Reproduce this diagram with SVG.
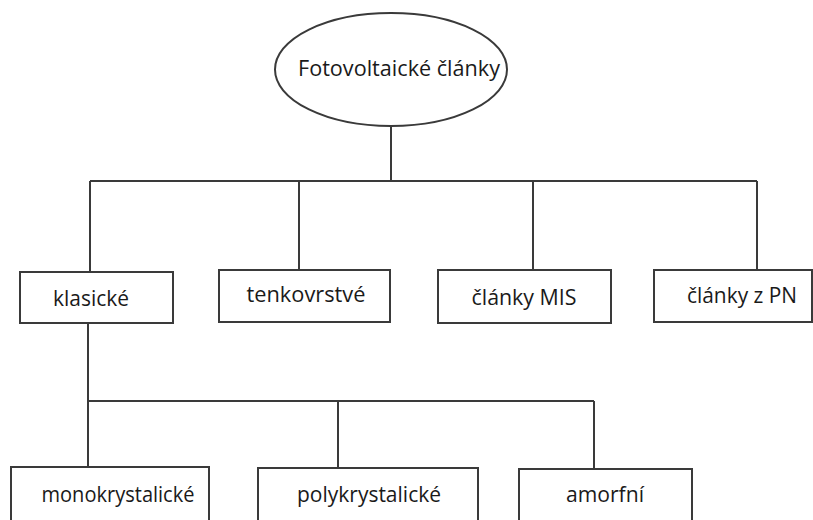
<svg xmlns="http://www.w3.org/2000/svg" width="813" height="520" viewBox="0 0 813 520">
<style>
.n{fill:#fff;stroke:#3a3a3a;stroke-width:2}
.t{font-family:"Open Sans","Noto Sans",sans-serif;font-size:21px;fill:#1a1a1a;text-anchor:middle}
.c{fill:none;stroke:#3a3a3a;stroke-width:2}
</style>
<rect width="813" height="520" fill="#fff"/>
<g id="connectors">
<path class="c" d="M391 126V181M90 181H757M90 181V272M299 181V270M533 181V270M757 181V270"/>
<path class="c" d="M88 323V401H594M88 401V467M338 401V468M594 401V469"/>
</g>
<g id="root"><ellipse class="n" cx="391" cy="69.5" rx="116" ry="56.5"/><text class="t" x="399" y="76" textLength="202" lengthAdjust="spacingAndGlyphs">Fotovoltaické články</text></g>
<g id="klasicke"><rect class="n" x="20" y="272" width="153" height="51"/><text class="t" x="91" y="306" textLength="76" lengthAdjust="spacingAndGlyphs">klasické</text></g>
<g id="tenkovrstve"><rect class="n" x="219" y="270" width="171" height="52"/><text class="t" x="306" y="302" textLength="119" lengthAdjust="spacingAndGlyphs">tenkovrstvé</text></g>
<g id="mis"><rect class="n" x="438" y="270" width="173" height="53"/><text class="t" x="524" y="305" textLength="105" lengthAdjust="spacingAndGlyphs">články MIS</text></g>
<g id="pn"><rect class="n" x="654" y="270" width="158" height="52"/><text class="t" x="742" y="303" textLength="110" lengthAdjust="spacingAndGlyphs">články z PN</text></g>
<g id="mono"><rect class="n" x="11" y="467" width="198" height="60"/><text class="t" x="118" y="502" textLength="153" lengthAdjust="spacingAndGlyphs">monokrystalické</text></g>
<g id="poly"><rect class="n" x="258" y="468" width="220" height="60"/><text class="t" x="369" y="502" textLength="144" lengthAdjust="spacingAndGlyphs">polykrystalické</text></g>
<g id="amorf"><rect class="n" x="519" y="469" width="173" height="60"/><text class="t" x="605" y="502" textLength="78" lengthAdjust="spacingAndGlyphs">amorfní</text></g>
</svg>
